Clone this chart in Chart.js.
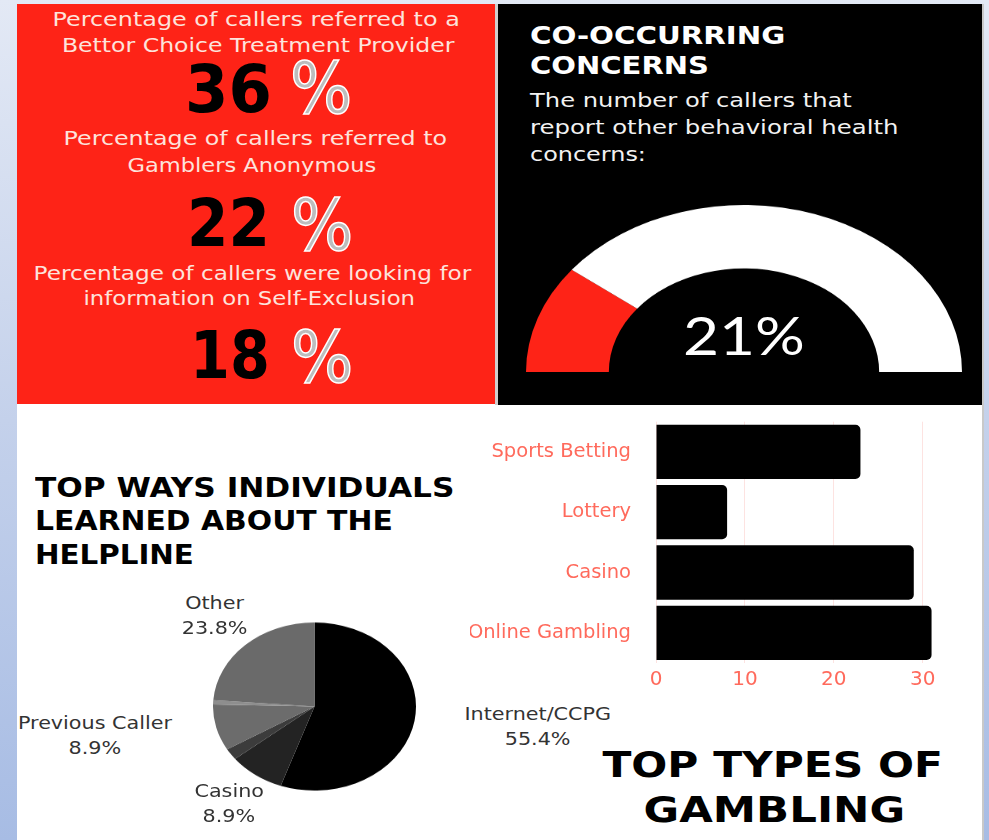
<!DOCTYPE html>
<html>
<head>
<meta charset="utf-8">
<title>Helpline statistics</title>
<script src="https://cdn.jsdelivr.net/npm/chart.js@4.4.1/dist/chart.umd.min.js"></script>
<style>
  html, body { margin: 0; padding: 0; }
  body {
    width: 989px; height: 840px; overflow: hidden; position: relative;
    background: linear-gradient(to bottom, #e3e9f5 0%, #c4d1eb 50%, #a7bce4 100%);
    font-family: "DejaVu Sans", sans-serif;
  }
  .box { position: absolute; }
  .box canvas { display: block; }
  .txt { position: absolute; white-space: nowrap; line-height: 1.2; }
</style>
</head>
<body>
<div class="box" style="left:17px;top:404px;width:966px;height:436px;background:#fff"></div>
<div class="box" style="left:17px;top:4px;width:478px;height:400px;background:#fe2317"></div>
<div class="box" style="left:495px;top:4px;width:3px;height:401px;background:#cfcfcf"></div>
<div class="box" style="left:498px;top:4px;width:484px;height:401px;background:#000"></div>
<div class="box" style="left:982px;top:4px;width:2px;height:836px;background:#c9c9c9"></div>

<div class="box" style="left:525.5px;top:154px;width:436px;height:218px;transform:scaleY(0.766);transform-origin:50% 100%">
  <canvas id="gauge" width="436" height="218"></canvas>
</div>
<div class="box" style="left:213px;top:604.5px;width:203px;height:203px;transform:scaleY(0.828);transform-origin:50% 50%">
  <canvas id="pie" width="203" height="203"></canvas>
</div>
<div class="box" style="left:470px;top:393px;width:480px;height:305px">
  <canvas id="bars" width="480" height="305"></canvas>
</div>

<script>
// red panel: share of callers per referral type
const referralLabels = [
  ['Percentage of callers referred to a', 'Bettor Choice Treatment Provider'],
  ['Percentage of callers referred to', 'Gamblers Anonymous'],
  ['Percentage of callers were looking for', 'information on Self-Exclusion']
];
const referralValues = [36, 22, 18];

// gauge: callers reporting other behavioral health concerns
const coOccurringLabels = ['Other concerns reported', 'No other concerns'];
const coOccurringValues = [21, 79];

// pie: how callers learned about the helpline (two thin slices have no label in the source)
const sourceLabels = ['Internet/CCPG', 'Casino', 'Unlabelled A', 'Previous Caller', 'Unlabelled B', 'Other'];
const sourceValues = [55.4, 8.9, 2.2, 8.9, 0.8, 23.8];

// bars: top types of gambling
const gamblingTypes = ['Sports Betting', 'Lottery', 'Casino', 'Online Gambling'];
const gamblingCounts = [23, 8, 29, 31];
const gamblingTicks = [0, 10, 20, 30];

const FONT = '"DejaVu Sans", sans-serif';
const SALMON = '#ff6a5c';

// put a line of text so its baseline sits at o.base, optionally stretched to a width
function put(text, o) {
  const d = document.createElement('div');
  d.className = 'txt';
  d.style.font = (o.weight || 400) + ' ' + o.size + 'px ' + (o.family || FONT);
  d.style.color = o.color || '#000';
  d.appendChild(document.createTextNode(text));
  const mark = document.createElement('span');
  mark.style.cssText = 'display:inline-block;width:0;height:0;';
  d.appendChild(mark);
  if (o.css) Object.assign(d.style, o.css);
  document.body.appendChild(d);
  const w = d.offsetWidth;
  const sx = o.width ? o.width / w : (o.scale || 1);
  d.style.left = (o.align === 'center' ? o.x - w / 2 : o.x) + 'px';
  d.style.top = (o.base - mark.offsetTop) + 'px';
  d.style.transformOrigin = o.align === 'center' ? '50% 0' : '0 0';
  d.style.transform = 'scaleX(' + sx + ')';
}

// red panel text
const refLines = [
  [{ x: 256, base: 26, width: 407 }, { x: 258, base: 52, width: 392 }],
  [{ x: 255, base: 145, width: 384 }, { x: 251.5, base: 172, width: 249 }],
  [{ x: 252, base: 280, width: 438 }, { x: 248.5, base: 305, width: 331 }]
];
const refNumbers = [
  { x: 185, base: 112, width: 87, pct: 290, pctBase: 113 },
  { x: 187, base: 246, width: 83, pct: 291, pctBase: 250 },
  { x: 190, base: 378, width: 80, pct: 291, pctBase: 382 }
];
referralLabels.forEach((lines, i) => {
  lines.forEach((t, j) => {
    const p = refLines[i][j];
    put(t, { x: p.x, base: p.base, width: p.width, align: 'center', size: 19, color: '#fde3dc' });
  });
  const n = refNumbers[i];
  put(String(referralValues[i]), { x: n.x, base: n.base, width: n.width, size: 66, weight: 700, color: '#000' });
  put('%', { x: n.pct, base: n.pctBase, width: 62, size: 72, color: '#bdbdbd',
    css: { webkitTextStroke: '1.5px #ffffff' } });
});

// black panel text
put('CO-OCCURRING', { x: 530, base: 44, width: 255, size: 24, weight: 700, color: '#fff' });
put('CONCERNS', { x: 530, base: 74, width: 179, size: 24, weight: 700, color: '#fff' });
put('The number of callers that', { x: 530, base: 107, width: 322, size: 20, color: '#f2f2f2' });
put('report other behavioral health', { x: 530, base: 134, width: 368, size: 20, color: '#f2f2f2' });
put('concerns:', { x: 530, base: 161, width: 116, size: 20, color: '#f2f2f2' });

// headings on the white part
put('TOP WAYS INDIVIDUALS', { x: 35, base: 497, width: 420, size: 26, weight: 700 });
put('LEARNED ABOUT THE', { x: 35, base: 530, width: 358, size: 26, weight: 700 });
put('HELPLINE', { x: 35, base: 564, width: 159, size: 26, weight: 700 });
put('TOP TYPES OF', { x: 772, base: 777, width: 340, size: 36, weight: 700, align: 'center' });
put('GAMBLING', { x: 774, base: 822, width: 262, size: 36, weight: 700, align: 'center' });

// gauge
new Chart(document.getElementById('gauge'), {
  type: 'doughnut',
  data: {
    labels: coOccurringLabels,
    datasets: [{ data: coOccurringValues, backgroundColor: ['#fe2317', '#ffffff'], borderWidth: 0 }]
  },
  options: {
    responsive: false,
    animation: false,
    rotation: -90,
    circumference: 180,
    cutout: '62%',
    plugins: { legend: { display: false }, tooltip: { enabled: false } }
  }
});
put(coOccurringValues[0] + '%', { x: 744, base: 355, width: 122, size: 53, weight: 400,
  family: 'Lato, "DejaVu Sans", sans-serif', color: '#fff', align: 'center' });

// pie
new Chart(document.getElementById('pie'), {
  type: 'pie',
  data: {
    labels: sourceLabels,
    datasets: [{
      data: sourceValues,
      backgroundColor: ['#000000', '#232323', '#3c3c3c', '#6c6c6c', '#8e8e8e', '#6a6a6a'],
      borderWidth: 0
    }]
  },
  options: {
    responsive: false,
    animation: false,
    plugins: { legend: { display: false }, tooltip: { enabled: false } }
  }
});
const sourceLabelPos = [[537, 720], [229, 797], null, [95, 729], null, [214, 609]];
sourceLabels.forEach((name, i) => {
  const p = sourceLabelPos[i];
  if (!p) return;
  put(name, { x: p[0], base: p[1], size: 18, scale: 1.15, color: '#333', align: 'center' });
  put(sourceValues[i] + '%', { x: p[0], base: p[1] + 25, size: 18, scale: 1.15, color: '#333', align: 'center' });
});

// horizontal bars
new Chart(document.getElementById('bars'), {
  type: 'bar',
  data: {
    labels: gamblingTypes,
    datasets: [{
      data: gamblingCounts,
      backgroundColor: '#000',
      borderRadius: 5,
      borderSkipped: 'start',
      barPercentage: 0.9,
      categoryPercentage: 1
    }]
  },
  options: {
    indexAxis: 'y',
    responsive: false,
    animation: false,
    layout: { padding: { top: 10, right: 14, bottom: 1, left: 0 } },
    plugins: { legend: { display: false }, tooltip: { enabled: false } },
    scales: {
      x: {
        min: 0,
        max: 31.5,
        afterBuildTicks: axis => { axis.ticks = gamblingTicks.map(v => ({ value: v })); },
        grid: { color: '#fde3e1', drawTicks: false },
        border: { display: false },
        ticks: { color: SALMON, font: { family: 'DejaVu Sans', size: 20 }, padding: 5 }
      },
      y: {
        grid: { display: false },
        border: { display: false },
        afterFit: axis => { axis.width = 186; },
        ticks: { color: SALMON, font: { family: 'DejaVu Sans', size: 19.5 }, padding: 17 }
      }
    }
  }
});
</script>
</body>
</html>
